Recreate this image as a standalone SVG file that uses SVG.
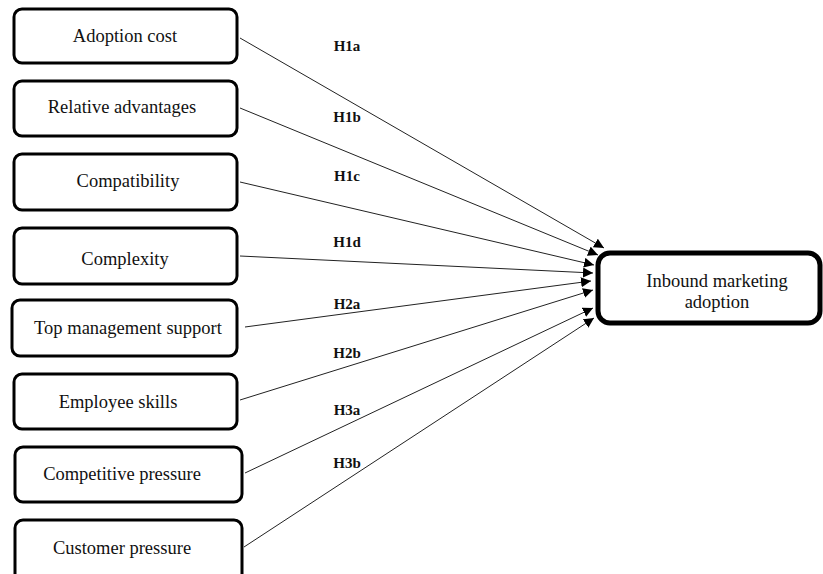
<svg xmlns="http://www.w3.org/2000/svg" width="823" height="574" viewBox="0 0 823 574">
<style>
.box{fill:#fff;stroke:#000;stroke-width:3}
.tgt{fill:#fff;stroke:#000;stroke-width:5}
.t{font-family:"Liberation Serif","Times New Roman",serif;font-size:18.5px;fill:#111;text-anchor:middle;dominant-baseline:central}
.lbl{font-family:"Liberation Serif","Times New Roman",serif;font-size:15px;font-weight:bold;fill:#111;text-anchor:middle;dominant-baseline:central}
.c{stroke:#222;stroke-width:1;fill:none;marker-end:url(#ah)}
</style>
<defs>
<marker id="ah" viewBox="0 0 10 10" refX="10" refY="5" markerWidth="10" markerHeight="10" markerUnits="userSpaceOnUse" orient="auto">
<path d="M0,0 L10,5 L0,10 z" fill="#000"/>
</marker>
</defs>
<rect width="823" height="574" fill="#fff"/>
<g id="connectors">
<line class="c" x1="240" y1="38" x2="604" y2="248"/>
<line class="c" x1="240" y1="108" x2="598" y2="255"/>
<line class="c" x1="240" y1="182" x2="594" y2="265"/>
<line class="c" x1="240" y1="256" x2="593" y2="273"/>
<line class="c" x1="245" y1="327" x2="591" y2="281"/>
<line class="c" x1="240" y1="400" x2="593" y2="290"/>
<line class="c" x1="245" y1="473" x2="593" y2="308"/>
<line class="c" x1="244" y1="547" x2="594" y2="318"/>
<text class="lbl" x="347" y="46">H1a</text>
<text class="lbl" x="347" y="117">H1b</text>
<text class="lbl" x="347" y="176">H1c</text>
<text class="lbl" x="347" y="242">H1d</text>
<text class="lbl" x="347" y="304">H2a</text>
<text class="lbl" x="347" y="353">H2b</text>
<text class="lbl" x="347" y="410">H3a</text>
<text class="lbl" x="347" y="463">H3b</text>
</g>
<g id="n1"><rect class="box" x="14" y="9" width="223" height="54" rx="8"/><text class="t" x="125" y="36">Adoption cost</text></g>
<g id="n2"><rect class="box" x="14" y="81" width="223" height="55" rx="8"/><text class="t" x="122" y="107">Relative advantages</text></g>
<g id="n3"><rect class="box" x="14" y="154" width="223" height="56" rx="8"/><text class="t" x="128" y="181">Compatibility</text></g>
<g id="n4"><rect class="box" x="14" y="228" width="223" height="56" rx="8"/><text class="t" x="125" y="259">Complexity</text></g>
<g id="n5"><rect class="box" x="12" y="300" width="225" height="56" rx="8"/><text class="t" x="128" y="328">Top management support</text></g>
<g id="n6"><rect class="box" x="14" y="374" width="223" height="55" rx="8"/><text class="t" x="118" y="402">Employee skills</text></g>
<g id="n7"><rect class="box" x="15" y="447" width="227" height="55" rx="8"/><text class="t" x="122" y="474">Competitive pressure</text></g>
<g id="n8"><rect class="box" x="15" y="520" width="227" height="62" rx="8"/><text class="t" x="122" y="548">Customer pressure</text></g>
<g id="n9"><rect class="tgt" x="598" y="253" width="222" height="70" rx="12"/><text class="t" x="717" y="281">Inbound marketing</text><text class="t" x="717" y="302">adoption</text></g>
</svg>
